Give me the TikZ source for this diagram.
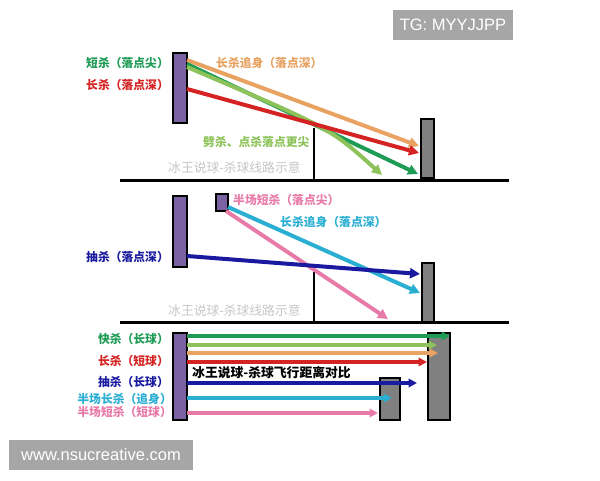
\documentclass[tikz,border=0pt]{standalone}
\usepackage{fontspec}
\setmainfont{Liberation Sans}
\newfontfamily\cjk{Noto Sans CJK SC}
\usetikzlibrary{arrows.meta}
\definecolor{racketc}{HTML}{7B62A3}
\definecolor{boxc}{HTML}{808080}
\definecolor{dgreen}{HTML}{1E9B55}
\definecolor{lgreen}{HTML}{8DC35A}
\definecolor{orangec}{HTML}{E8A262}
\definecolor{redc}{HTML}{D52222}
\definecolor{navyc}{HTML}{1A1AA0}
\definecolor{cyanc}{HTML}{2AAED2}
\definecolor{pinkc}{HTML}{E87AA8}
\definecolor{markbg}{HTML}{A6A6A6}
\begin{document}
\begin{tikzpicture}[x=1pt,y=-1pt]
\tikzstyle{every node}=[font=\cjk\bfseries\fontsize{11.8}{12}\selectfont,inner sep=0pt]
\tikzstyle{racket}=[draw,line width=1.2pt,fill=racketc]
\tikzstyle{target}=[draw,line width=1.2pt,fill=boxc]
\tikzstyle{shot}=[line width=4pt,-{Triangle[length=10pt,width=10pt]}]
\tikzstyle{flat}=[line width=3.2pt,-{Triangle[length=8.5pt,width=8.5pt]}]
\tikzstyle{floor}=[line width=3pt]
\tikzstyle{stamp}=[font=\cjk\fontsize{12.8}{13}\selectfont,text=gray!45]
\useasboundingbox (0,0) rectangle (600,480);
% panel 1
\node[racket,minimum width=14pt,minimum height=70pt] (r1) at (180,88) {};
\node[target,minimum width=13pt,minimum height=59pt] (t1) at (427.5,148.5) {};
\draw[floor] (120,180)--(509,180);
\draw[line width=2.5pt] (314,128)--(314,180);
\coordinate (a1) at (187,60); \coordinate (b1) at (419,146);
\coordinate (a2) at (187,64); \coordinate (b2) at (418,174);
\coordinate (a3) at (187,67); \coordinate (b3) at (382,175);
\coordinate (a4) at (187,89); \coordinate (b4) at (419,153);
\draw[shot,orangec] (a1)--(b1);
\draw[shot,dgreen] (a2)--(b2);
\draw[shot,lgreen] (a3) .. controls (330,128) .. (b3);
\draw[shot,redc] (a4)--(b4);
\node[anchor=east,text=dgreen] (l1) at (169,63) {短杀（落点尖）};
\node[anchor=east,text=redc] (l2) at (169,85) {长杀（落点深）};
\node[anchor=west,text=orangec] (l3) at (216,63) {长杀追身（落点深）};
\node[anchor=west,text=lgreen] (l4) at (203,142) {劈杀、点杀落点更尖};
\node[stamp,anchor=west] (m1) at (168,168) {冰王说球-杀球线路示意};
% panel 2
\node[racket,minimum width=14pt,minimum height=71pt] (r2) at (180,231.5) {};
\node[racket,minimum width=12pt,minimum height=17pt] (r3) at (222,202.5) {};
\node[target,minimum width=12pt,minimum height=59pt] (t2) at (428,292.5) {};
\draw[floor] (120,322)--(509,322);
\draw[line width=2.5pt] (314,272)--(314,322);
\coordinate (a5) at (187,256); \coordinate (b5) at (420,274);
\coordinate (a6) at (228,207); \coordinate (b6) at (420,293);
\coordinate (a7) at (226,211); \coordinate (b7) at (388,319);
\draw[shot,pinkc] (a7)--(b7);
\draw[shot,cyanc] (a6)--(b6);
\draw[shot,navyc] (a5)--(b5);
\node[anchor=west,text=pinkc] (l5) at (233,200) {半场短杀（落点尖）};
\node[anchor=west,text=cyanc] (l6) at (280,222) {长杀追身（落点深）};
\node[anchor=east,text=navyc] (l7) at (169,257) {抽杀（落点深）};
\node[stamp,anchor=west] (m2) at (168,311) {冰王说球-杀球线路示意};
% panel 3
\node[target,minimum width=22pt,minimum height=87pt] (t3) at (439,376.5) {};
\node[target,minimum width=20pt,minimum height=42pt] (t4) at (390,399) {};
\node[racket,minimum width=14pt,minimum height=87pt] (r4) at (180,376.5) {};
\draw[flat,dgreen] (187,336)--(450,336);
\draw[flat,lgreen] (187,345)--(437,345);
\draw[flat,orangec] (187,353)--(438,353);
\draw[flat,redc] (187,362)--(427,362);
\draw[flat,navyc] (187,383)--(417,383);
\draw[flat,cyanc] (187,398)--(392,398);
\draw[flat,pinkc] (187,413)--(378,413);
\node[anchor=east,text=dgreen] (l8) at (169,339) {快杀（长球）};
\node[anchor=east,text=redc] (l9) at (169,361) {长杀（短球）};
\node[anchor=east,text=navyc] (l10) at (169,382) {抽杀（长球）};
\node[anchor=east,text=cyanc] (l11) at (172,399) {半场长杀（追身）};
\node[anchor=east,text=pinkc] (l12) at (172,412) {半场短杀（短球）};
\node[anchor=west,font=\cjk\bfseries\fontsize{12.8}{13}\selectfont] (l13) at (192,373) {冰王说球-杀球飞行距离对比};
% watermarks
\node[fill=markbg,text=white,font=\fontsize{16.5}{17}\selectfont,minimum width=120pt,minimum height=30pt] (tg) at (453,25) {TG: MYYJJPP};
\node[fill=markbg,text=white,font=\fontsize{16.5}{17}\selectfont,minimum width=184pt,minimum height=30pt] (www) at (101,455) {www.nsucreative.com};
\end{tikzpicture}
\end{document}
